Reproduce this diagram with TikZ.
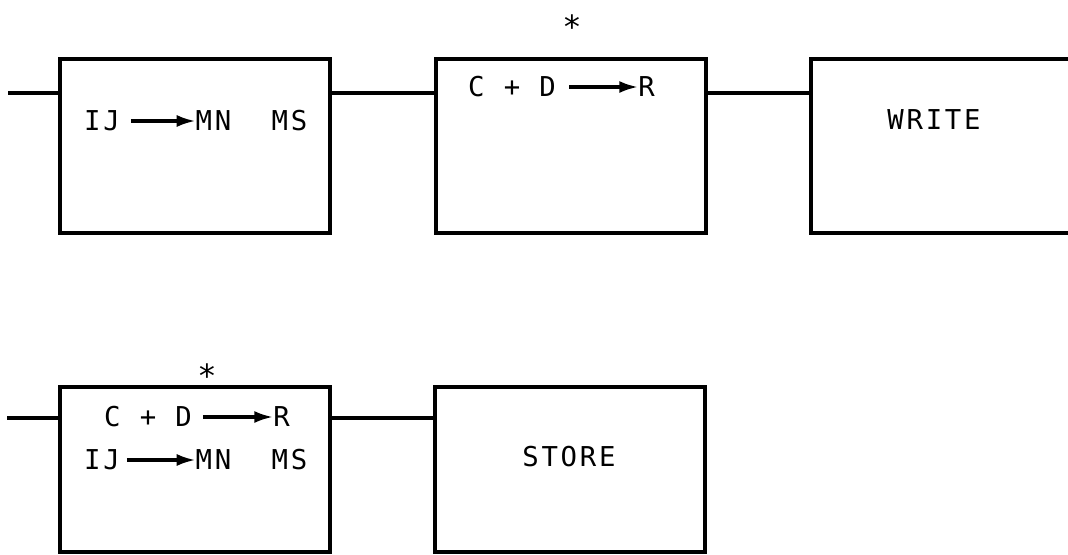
\documentclass[tikz,border=0pt]{standalone}
\usepackage{fontspec}
\newfontfamily\lettering[LetterSpace=10]{DejaVu Sans Mono}
\usetikzlibrary{arrows.meta}

\begin{document}
\begin{tikzpicture}[x=0.75pt,y=0.75pt,yscale=-1,xscale=1,
  blk/.style={draw,line width=2.3pt,rectangle,minimum width=202.5pt,inner sep=0pt},
  wire/.style={line width=2.3pt},
  lbl/.style={inner sep=0pt,font=\lettering\fontsize{20.5}{22}\selectfont},
  starmark/.style={inner sep=0pt,font=\lettering\fontsize{24}{26}\selectfont},
  flow/.style={line width=2.3pt,-{Latex[length=14pt,width=9pt]}}]
\path[use as bounding box] (0,0) rectangle (1068,554);
\clip (0,0) rectangle (1068,554);

% Boxes, top row
\node[blk,minimum height=130.5pt] (box1) at (195,146) {};
\node[blk,minimum height=130.5pt] (box2) at (571,146) {};
\node[blk,minimum height=130.5pt,minimum width=216.75pt] (box3) at (955.5,146) {};
% Boxes, bottom row
\node[blk,minimum height=123.75pt] (box4) at (195,469.5) {};
\node[blk,minimum height=123.75pt] (box5) at (570,469.5) {};

% Connecting lines
\coordinate (in1) at (8,93);
\draw[wire] (in1) -- (in1 -| box1.west);
\draw[wire] (box1.east |- in1) -- (box2.west |- in1);
\draw[wire] (box2.east |- in1) -- (box3.west |- in1);
\coordinate (in2) at (7,418);
\draw[wire] (in2) -- (in2 -| box4.west);
\draw[wire] (box4.east |- in2) -- (box5.west |- in2);

% Text in box 1
\node[lbl] (ij1) at (102,121) {IJ};
\node[lbl] (mn1) at (213.5,121) {MN};
\node[lbl] (ms1) at (289.5,121) {MS};
\draw[flow,shorten <=8pt] (ij1) -- (mn1);

% Text in box 2
\node[lbl] (cd2) at (512,87) {C + D};
\node[lbl] (r2) at (646.5,87) {R};
\draw[flow,shorten <=10pt] (cd2) -- (r2);
\node[starmark] (star2) at (572,27) {*};

% Text in box 3
\node[lbl] (write) at (934,120) {WRITE};

% Text in box 4
\node[lbl] (cd4) at (148,417) {C + D};
\node[lbl] (r4) at (281.5,417) {R};
\draw[flow,shorten <=8pt] (cd4) -- (r4);
\node[lbl] (ij4) at (102,460) {IJ};
\node[lbl] (mn4) at (213.5,460) {MN};
\node[lbl] (ms4) at (289.5,460) {MS};
\draw[flow,shorten <=5pt] (ij4) -- (mn4);
\node[starmark] (star4) at (207,376) {*};

% Text in box 5
\node[lbl] (store) at (569,457) {STORE};

\end{tikzpicture}
\end{document}
